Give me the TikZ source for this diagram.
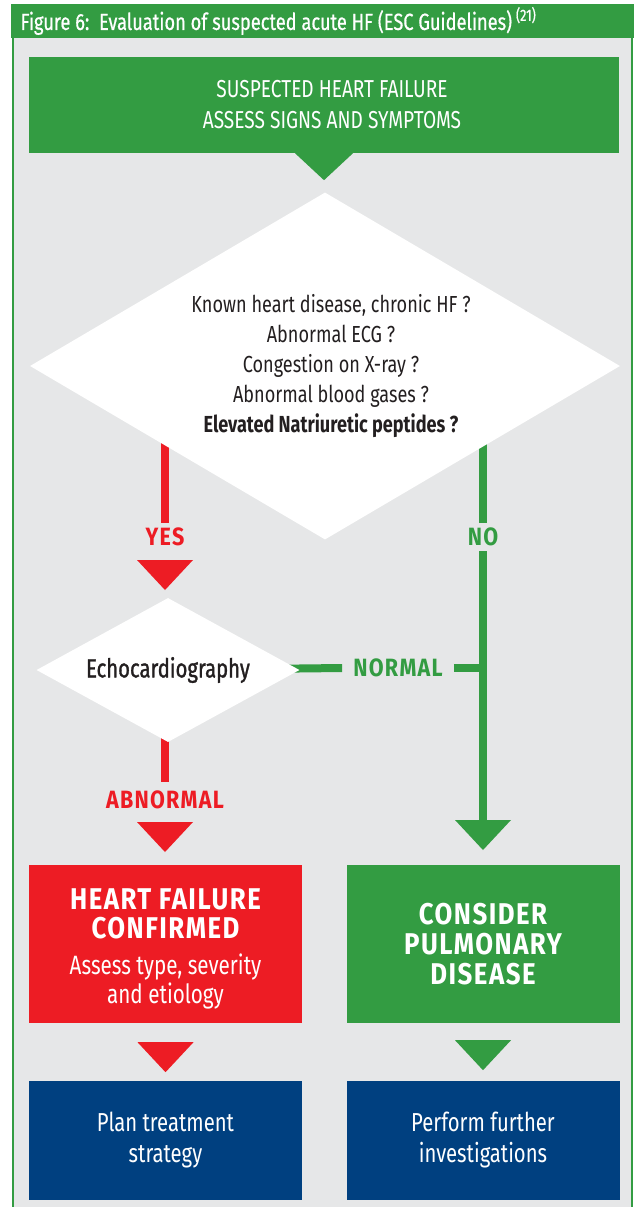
\documentclass[tikz,border=0pt]{standalone}
\usepackage{fontspec}
\setmainfont{Fira Sans}[FakeStretch=0.78]
\newfontfamily\headfont{Fira Sans}[FakeStretch=0.86,LetterSpace=5]
\usetikzlibrary{shapes.geometric,backgrounds}

\definecolor{escgreen}{RGB}{51,156,66}
\definecolor{escred}{RGB}{237,28,36}
\definecolor{escblue}{RGB}{0,64,128}
\definecolor{panelgray}{RGB}{230,231,232}
\definecolor{inkdark}{RGB}{35,31,32}

\pgfdeclarelayer{lines}
\pgfsetlayers{background,lines,main}

\tikzset{
  topbox/.style={rectangle, fill=escgreen, inner sep=0pt, minimum width=590pt, minimum height=96pt},
  question/.style={diamond, fill=white, inner sep=0pt},
  inside/.style={align=center, inner sep=0pt},
  resultbox/.style={rectangle, text=white, align=center, inner sep=0pt,
    minimum width=273pt, minimum height=158pt},
  actionbox/.style={rectangle, fill=escblue, text=white, align=center, inner sep=0pt,
    minimum width=273pt, minimum height=119pt, font=\fontsize{26}{31}\selectfont},
  answer/.style={inner sep=5pt, font=\headfont\bfseries\fontsize{25}{28}\selectfont},
  redline/.style={draw=escred, line width=8pt},
  greenline/.style={draw=escgreen, line width=8pt},
  downtip/.pic={\fill[pic actions] (-28,0) -- (28,0) -- (0,30) -- cycle;}
}
\newcommand\hfhead{\headfont\bfseries\fontsize{30}{30}\selectfont}

\begin{document}
\begin{tikzpicture}[x=1pt,y=-1pt]
\useasboundingbox (0,0) rectangle (637,1207);
\begin{scope}[on background layer]
\fill[white] (0,0) rectangle (637,1207);
\fill[panelgray] (13,38) rectangle (632,1207);
\draw[escgreen, line width=2pt] (13,38) -- (13,1207) (632,38) -- (632,1207);
\fill[escgreen] (11,4) rectangle (634,38);
\end{scope}
\node[anchor=west, text=white, font=\fontsize{23.4}{26}\selectfont\addfontfeatures{FakeBold=0.6}] (title) at (17,21)
  {Figure 6:\ \ Evaluation of suspected acute HF (ESC Guidelines)\,\textsuperscript{(21)}};

% first question
\node[topbox] (suspect) at (324,105) {};
\node[inside, text=white, font=\fontsize{24.5}{31}\selectfont] (suspecttext) at ([xshift=8pt]suspect.center)
  {SUSPECTED HEART FAILURE\\ASSESS SIGNS AND SYMPTOMS};
\fill[escgreen] ([xshift=-29pt]suspect.south) -- ([xshift=29pt]suspect.south) -- ++(-29,27) -- cycle;
\node[question, aspect=1.7, minimum width=590pt, minimum height=347pt] (q) at (325,366) {};
\node[inside, text=inkdark, font=\fontsize{23.2}{29.8}\selectfont] (qtext) at ([xshift=6pt]q.center)
  {Known heart disease, chronic HF ?\\Abnormal ECG ?\\Congestion on X-ray ?\\
   Abnormal blood gases ?\\\textbf{Elevated Natriuretic peptides ?}};

\node[answer, text=escred] (yes) at (165,537) {YES};
\node[answer, text=escgreen] (no) at (483,537) {NO};
\pic[fill=escred] at (165,560) {downtip};

% echo
\node[question, aspect=1.83, minimum width=263pt, minimum height=144pt, text=inkdark,
  font=\fontsize{26}{30}\selectfont\addfontfeatures{FakeBold=1.2}] (echo) at (168,670) {Echocardiography};
\node[answer, text=escgreen, inner sep=11pt] (normal) at (398,668) {NORMAL};
\node[answer, text=escred, inner ysep=9pt] (abn) at (165,800) {ABNORMAL};
\pic[fill=escred] at (165,822) {downtip};
\coordinate (gtip) at (483,820);
\pic[fill=escgreen] at (gtip) {downtip};

% results
\node[resultbox, fill=escred] (hf) at (165.5,944) {};
\node[inside, text=white, font=\fontsize{26.5}{29}\selectfont] (hftext) at ([yshift=-5pt]hf.center)
  {\hfhead HEART FAILURE\\\hfhead CONFIRMED\\[7pt]\normalfont Assess type, severity\\\normalfont and etiology};
\node[resultbox, fill=escgreen, font=\hfhead] (pulm) at (483,944)
  {CONSIDER\\PULMONARY\\DISEASE};
\pic[fill=escred] at ([yshift=-19pt]hf.south) {downtip};
\pic[fill=escgreen] at ([yshift=-17pt]pulm.south) {downtip};
\node[actionbox] (plan) at (165.5,1140) {Plan treatment\\strategy};
\node[actionbox] (perform) at (483,1140) {Perform further\\investigations};

\begin{pgfonlayer}{lines}
\draw[redline] (q.center -| yes) -- (yes.north);
\draw[redline] (echo.center -| abn) -- (abn.north);
\draw[greenline] (q.center -| no) -- (no.north);
\draw[greenline] (no.south) -- (gtip);
\draw[greenline] (echo.center) -- (normal.west);
\draw[greenline] (normal.east) -- (normal.east -| no);
\end{pgfonlayer}
\end{tikzpicture}
\end{document}
